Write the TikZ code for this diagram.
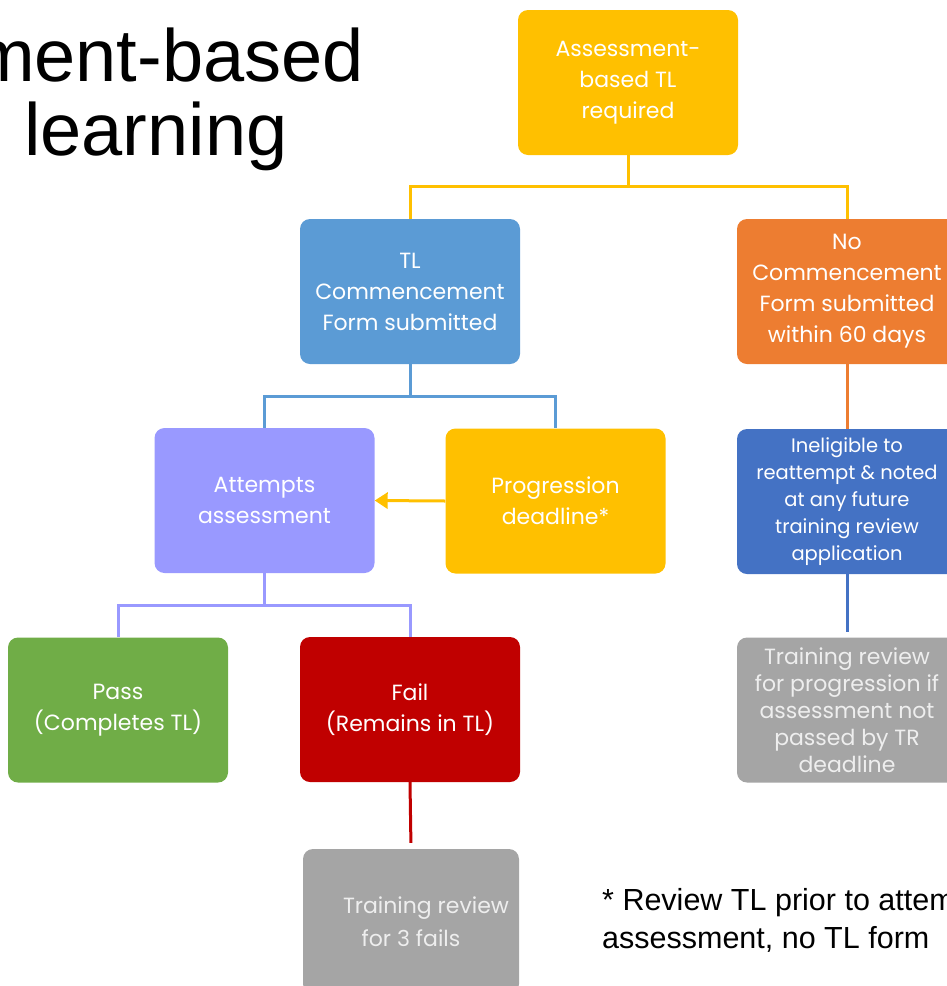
\documentclass[tikz,border=0pt]{standalone}
\usepackage{fontspec}
\setmainfont{Liberation Sans}
\newfontfamily\boxfont{Poppins}
\usetikzlibrary{arrows.meta}
\definecolor{cyel}{HTML}{FFC000}
\definecolor{cblu}{HTML}{5B9BD5}
\definecolor{cora}{HTML}{ED7D31}
\definecolor{cpur}{HTML}{9999FF}
\definecolor{cdbl}{HTML}{4472C4}
\definecolor{cgrn}{HTML}{70AD47}
\definecolor{cred}{HTML}{C00000}
\definecolor{cgry}{HTML}{A5A5A5}
\definecolor{cgtx}{HTML}{EEEEEE}
\tikzset{
  box/.style={rounded corners=10pt, minimum width=220pt, minimum height=145pt, inner sep=0pt,
    align=center, text=white, font=\boxfont\fontsize{22}{31}\selectfont},
  smallbox/.style={box, font=\boxfont\fontsize{19.5}{27}\selectfont},
  graybox/.style={box, fill=cgry, text=cgtx, font=\boxfont\fontsize{22}{27}\selectfont},
  conn/.style={line width=3pt}
}
\begin{document}
\begin{tikzpicture}[x=1pt,y=-1pt]
\useasboundingbox (0,0) rectangle (947,986);
\clip (0,0) rectangle (947,986);
% title
\node[anchor=base east, inner sep=0pt, font=\fontsize{74}{80}\selectfont] (t1) at (364,81) {ment-based};
\node[anchor=base west, inner sep=0pt, font=\fontsize{74}{80}\selectfont] (t2) at (24,155) {learning};
% boxes
\node[box, fill=cyel] (top) at (628,82.5) {Assessment-\\based TL\\required};
\node[box, fill=cblu] (tlc) at (410,291.5) {TL\\Commencement\\Form submitted};
\node[box, fill=cora] (noc) at (847,291.5) {No\\Commencement\\Form submitted\\within 60 days};
\node[box, fill=cpur] (att) at (264.5,500.5) {Attempts\\assessment};
\node[box, fill=cyel] (prog) at (555.5,501) {Progression\\deadline*};
\node[smallbox, fill=cdbl] (inel) at (847,501.5) {Ineligible to\\reattempt \& noted\\at any future\\training review\\application};
\node[box, fill=cgrn] (pass) at (118,710) {Pass\\(Completes TL)};
\node[box, fill=cred] (fail) at (410,709.5) {Fail\\(Remains in TL)};
\node[graybox] (trp) at (847,710) {Training review\\for progression if\\assessment not\\passed by TR\\deadline};
\node[graybox, minimum width=216pt, font=\boxfont\fontsize{22}{33}\selectfont] (tr3) at (411,921.5) {\hspace*{30pt}Training review\\for 3 fails};
% footnote
\node[anchor=base west, inner sep=0pt, align=left, font=\fontsize{30.5}{38}\selectfont] (fn) at (602,948) {* Review TL prior to attempting\\assessment, no TL form};
% connectors
\draw[conn, cyel] (top.south) -- ++(0,31) -| (tlc.north);
\draw[conn, cyel] (top.south) -- ++(0,31) -| (noc.north);
\draw[conn, cblu] (tlc.south) -- ++(0,32) -| (att.north);
\draw[conn, cblu] (tlc.south) -- ++(0,32) -| (prog.north);
\draw[conn, cora] (noc.south) -- (inel.north);
\draw[conn, cyel, -{Triangle[length=13pt,width=16pt]}] (prog.west) -- (att.east);
\draw[conn, cpur] (att.south) -- ++(0,32) -| (pass.north);
\draw[conn, cpur] (att.south) -- ++(0,32) -| (fail.north);
\draw[conn, cred, shorten >=6pt] (fail.south) -- (tr3.north);
\draw[conn, cdbl, shorten >=5pt] (inel.south) -- (trp.north);
\end{tikzpicture}
\end{document}
